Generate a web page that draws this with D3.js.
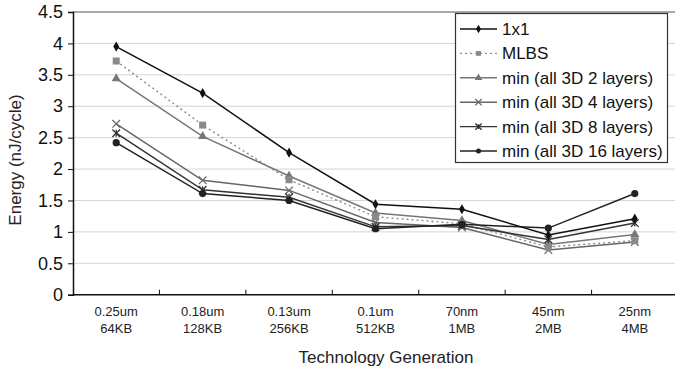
<!DOCTYPE html>
<html><head><meta charset="utf-8">
<script src="https://cdn.jsdelivr.net/npm/d3@7"></script>
<style>body{margin:0;background:#fff}svg{display:block;font-family:"Liberation Sans",Arial,sans-serif}</style>
</head><body><svg id="c" width="675" height="371"></svg>
<script>
const categories = [["0.25um","64KB"],["0.18um","128KB"],["0.13um","256KB"],["0.1um","512KB"],["70nm","1MB"],["45nm","2MB"],["25nm","4MB"]];
const yTicks = [0,0.5,1,1.5,2,2.5,3,3.5,4,4.5];
const seriesNames = ["1x1","MLBS","min (all 3D 2 layers)","min (all 3D 4 layers)","min (all 3D 8 layers)","min (all 3D 16 layers)"];
const s1x1 = [3.95,3.21,2.26,1.44,1.36,0.95,1.21];
const sMLBS = [3.72,2.70,1.83,1.24,1.13,0.76,0.86];
const s2L = [3.44,2.52,1.89,1.30,1.18,0.80,0.96];
const s4L = [2.72,1.82,1.66,1.15,1.07,0.71,0.84];
const s8L = [2.57,1.67,1.55,1.08,1.10,0.88,1.14];
const s16L = [2.42,1.61,1.50,1.05,1.12,1.06,1.61];
const seriesValues = [s1x1,sMLBS,s2L,s4L,s8L,s16L];
const colors = ["#111","#8a8a8a","#777","#666","#333","#222"];
const markers = ["diamond","square","triangle","x","star","circle"];

const svg = d3.select("#c");
const L=73, R=678, T=12, B=294.7;
const x = d3.scaleBand().domain(d3.range(categories.length)).range([L,R]);
const y = d3.scaleLinear().domain([0,4.5]).range([B,T]);

// grid
svg.append("g").selectAll("line").data(yTicks.slice(1,-1)).join("line")
  .attr("x1",L).attr("x2",675).attr("y1",d=>y(d)).attr("y2",d=>y(d))
  .attr("stroke","#d4d4d4").attr("stroke-width",1);
// top border
svg.append("line").attr("x1",L).attr("x2",675).attr("y1",y(4.5)).attr("y2",y(4.5)).attr("stroke","#555").attr("stroke-width",1.2);

// y axis
const ya = svg.append("g").attr("transform",`translate(${L},0)`)
  .call(d3.axisLeft(y).tickValues(yTicks).tickSize(5).tickPadding(5).tickFormat(d=>String(d)));
ya.select(".domain").attr("stroke","#111").attr("stroke-width",1.5);
ya.selectAll(".tick line").attr("stroke","#111");
ya.selectAll("text").attr("font-size",18).attr("fill","#111").attr("font-family","Liberation Sans, Arial, sans-serif");

// x axis
const xa = svg.append("g").attr("transform",`translate(0,${B})`);
xa.append("line").attr("x1",L).attr("x2",675).attr("y1",0).attr("y2",0).attr("stroke","#111").attr("stroke-width",1.5);
xa.selectAll("line.t").data(d3.range(1,categories.length)).join("line").attr("class","t")
  .attr("x1",d=>x(d)).attr("x2",d=>x(d)).attr("y1",0).attr("y2",-5).attr("stroke","#111");
const xl = xa.selectAll("text").data(categories).join("text")
  .attr("text-anchor","middle").attr("font-size",13).attr("fill","#222");
xl.append("tspan").attr("x",(d,i)=>x(i)+x.bandwidth()/2).attr("y",21).text(d=>d[0]);
xl.append("tspan").attr("x",(d,i)=>x(i)+x.bandwidth()/2).attr("y",38).text(d=>d[1]);

svg.append("text").attr("x",386).attr("y",363).attr("text-anchor","middle").attr("font-size",17).attr("fill","#222").text("Technology Generation");
svg.append("text").attr("transform","translate(21,160) rotate(-90)").attr("text-anchor","middle").attr("font-size",17).attr("fill","#222").text("Energy (nJ/cycle)");

function drawMarker(g, type, cx, cy, color, s){
  s = s||1;
  if(type==="diamond") g.append("path").attr("d",d3.symbol(d3.symbolDiamond,30*s)()).attr("transform",`translate(${cx},${cy})`).attr("fill",color);
  else if(type==="square") g.append("rect").attr("x",cx-3.5*s).attr("y",cy-3.5*s).attr("width",7*s).attr("height",7*s).attr("fill",color);
  else if(type==="triangle") g.append("path").attr("d",d3.symbol(d3.symbolTriangle,36*s)()).attr("transform",`translate(${cx},${cy})`).attr("fill",color);
  else if(type==="x") g.append("path").attr("d",d3.symbol(d3.symbolTimes,40*s)()).attr("transform",`translate(${cx},${cy})`).attr("fill","none").attr("stroke",color).attr("stroke-width",1.2);
  else if(type==="star"){ g.append("path").attr("d",d3.symbol(d3.symbolTimes,40*s)()).attr("transform",`translate(${cx},${cy})`).attr("fill","none").attr("stroke",color).attr("stroke-width",1.3);
    g.append("line").attr("x1",cx).attr("x2",cx).attr("y1",cy-3.5*s).attr("y2",cy+3.5*s).attr("stroke",color).attr("stroke-width",1.3);}
  else if(type==="circle") g.append("circle").attr("cx",cx).attr("cy",cy).attr("r",3.6*s).attr("fill",color);
}

const cx = i => x(i)+x.bandwidth()/2;
const line = d3.line().x((d,i)=>cx(i)).y(d=>y(d));
const order = [3,2,1,4,5,0];
order.forEach(k=>{
  const g = svg.append("g");
  g.append("path").attr("d",line(seriesValues[k])).attr("fill","none").attr("stroke",colors[k])
    .attr("stroke-width",k===1?1.4:1.5).attr("stroke-dasharray",k===1?"2,3":null);
  seriesValues[k].forEach((v,i)=>drawMarker(g,markers[k],cx(i),y(v),colors[k]));
});

// legend
const lg = svg.append("g");
lg.append("rect").attr("x",455.5).attr("y",13.5).attr("width",212).attr("height",149).attr("fill","#fff").attr("stroke","#333").attr("stroke-width",1.2);
seriesNames.forEach((n,k)=>{
  const yy = 29 + k*24.4;
  lg.append("line").attr("x1",460).attr("x2",497).attr("y1",yy).attr("y2",yy).attr("stroke",colors[k]).attr("stroke-width",1.4).attr("stroke-dasharray",k===1?"2,3":null);
  drawMarker(lg,markers[k],478.5,yy,colors[k],0.7);
  lg.append("text").attr("x",502).attr("y",yy+6).attr("font-size",17).attr("fill","#111").text(n);
});
</script></body></html>
